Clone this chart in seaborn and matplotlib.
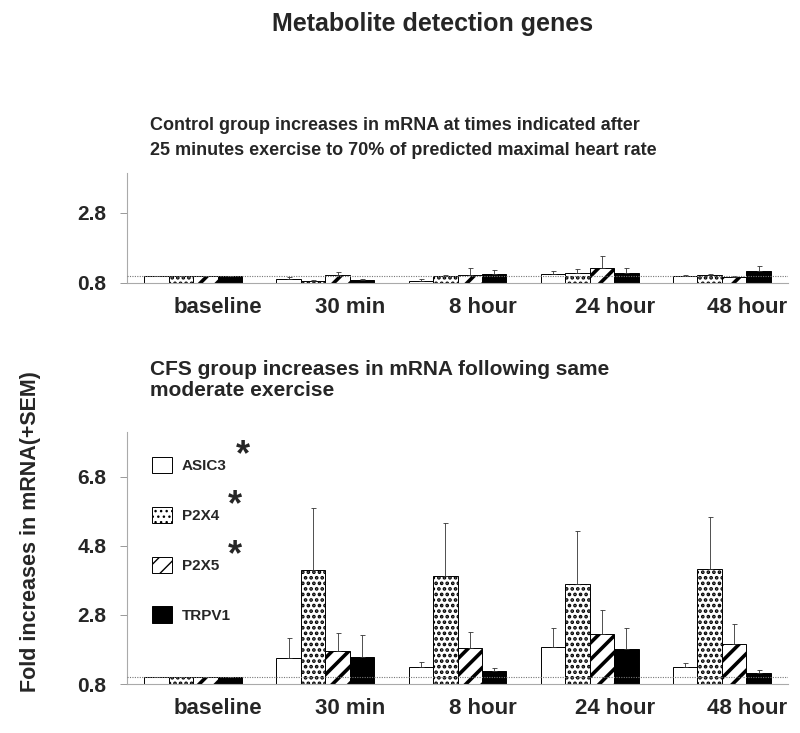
#%% modules
import numpy as np
import pandas as pd
import seaborn as sns
import matplotlib.pyplot as plt
from matplotlib.container import BarContainer

#%% data
times = ["baseline", "30 min", "8 hour", "24 hour", "48 hour"]
genes = ["ASIC3", "P2X4", "P2X5", "TRPV1"]

# control group (fold change, +SEM)
ctrl_asic3 = [1.0, 0.90, 0.85, 1.05, 0.99]
ctrl_p2x4 = [1.0, 0.86, 0.99, 1.09, 1.01]
ctrl_p2x5 = [1.0, 1.01, 1.02, 1.21, 0.95]
ctrl_trpv1 = [1.0, 0.88, 1.04, 1.09, 1.12]
ctrl_asic3_sem = [0.0, 0.05, 0.05, 0.09, 0.02]
ctrl_p2x4_sem = [0.0, 0.03, 0.02, 0.09, 0.04]
ctrl_p2x5_sem = [0.0, 0.09, 0.19, 0.35, 0.04]
ctrl_trpv1_sem = [0.0, 0.02, 0.11, 0.12, 0.16]

# CFS group (fold change, +SEM)
cfs_asic3 = [1.0, 1.54, 1.30, 1.88, 1.30]
cfs_p2x4 = [1.0, 4.09, 3.92, 3.71, 4.12]
cfs_p2x5 = [1.0, 1.75, 1.83, 2.24, 1.97]
cfs_trpv1 = [1.0, 1.59, 1.18, 1.80, 1.11]
cfs_asic3_sem = [0.0, 0.58, 0.13, 0.55, 0.10]
cfs_p2x4_sem = [0.0, 1.81, 1.54, 1.53, 1.51]
cfs_p2x5_sem = [0.0, 0.53, 0.48, 0.71, 0.56]
cfs_trpv1_sem = [0.0, 0.62, 0.07, 0.63, 0.09]

# genes marked with a significance asterisk
starred = [True, True, True, False]

#%% style
sns.set_style("white")
plt.rcParams["font.family"] = ["Liberation Sans", "DejaVu Sans"]
plt.rcParams["font.weight"] = "bold"


def long_df(vals, sems):
    rows = []
    for g, v, s in zip(genes, vals, sems):
        for t, vv, ss in zip(times, v, s):
            rows.append({"time": t, "gene": g, "fold": vv, "sem": ss})
    return pd.DataFrame(rows)


df_ctrl = long_df([ctrl_asic3, ctrl_p2x4, ctrl_p2x5, ctrl_trpv1],
                  [ctrl_asic3_sem, ctrl_p2x4_sem, ctrl_p2x5_sem, ctrl_trpv1_sem])
df_cfs = long_df([cfs_asic3, cfs_p2x4, cfs_p2x5, cfs_trpv1],
                 [cfs_asic3_sem, cfs_p2x4_sem, cfs_p2x5_sem, cfs_trpv1_sem])

palette = {"ASIC3": "white", "P2X4": "white", "P2X5": "white", "TRPV1": "black"}
hatches = {"ASIC3": "", "P2X4": "...", "P2X5": "//", "TRPV1": ""}
hatch_lw = {"ASIC3": 1.0, "P2X4": 1.8, "P2X5": 2.6, "TRPV1": 1.0}

fig = plt.figure(figsize=(8, 7.33), dpi=100)
ax_top = fig.add_axes([127 / 800, 1 - 282.7 / 733, 661 / 800, 110 / 733])
ax_bot = fig.add_axes([127 / 800, 1 - 684 / 733, 661 / 800, 252 / 733])


def draw_panel(ax, df, ymax, yticks):
    sns.barplot(data=df, x="time", y="fold", hue="gene", palette=palette,
                hue_order=genes, order=times, width=0.74, gap=0, errorbar=None,
                edgecolor="black", linewidth=0.7, saturation=1, legend=False, ax=ax)
    bars = [c for c in ax.containers if isinstance(c, BarContainer)]
    for gene, cont in zip(genes, bars):
        sub = df[df["gene"] == gene]
        xs, ys = [], []
        for p in cont.patches:
            p.set_hatch(hatches[gene])
            if hasattr(p, "set_hatch_linewidth"):
                p.set_hatch_linewidth(hatch_lw[gene])
            xs.append(p.get_x() + p.get_width() / 2)
            ys.append(p.get_height())
        sem = sub["sem"].values
        ax.errorbar(xs, ys, yerr=[np.zeros_like(sem), sem], fmt="none",
                    ecolor="#333333", elinewidth=0.6, capsize=1.8, capthick=0.6, zorder=1)
    ax.axhline(1.0, color="#777777", ls=(0, (1, 1.2)), lw=0.8, zorder=4)
    ax.set_ylim(0.8, ymax)
    ax.set_xlim(-0.5, 4.5)
    ax.set_yticks(yticks)
    ax.set_yticklabels([f"{t:.1f}" for t in yticks], fontsize=15, fontweight="bold")
    ax.set_xticks(np.arange(-0.5, 5, 1.0))
    ax.set_xticklabels([])
    ax.set_xticks(np.arange(5) + 0.19, minor=True)
    ax.set_xticklabels(times, minor=True, fontsize=16, fontweight="bold")
    ax.tick_params(axis="x", which="major", direction="out", length=4, color="#999999", width=0.7)
    ax.tick_params(axis="x", which="minor", length=0, pad=10)
    ax.tick_params(axis="y", direction="out", length=5, color="#999999", width=0.7, pad=10, left=True)
    ax.set_xlabel("")
    ax.set_ylabel("")
    for s in ["top", "right"]:
        ax.spines[s].set_visible(False)
    for s in ["left", "bottom"]:
        ax.spines[s].set_color("#aaaaaa")
        ax.spines[s].set_linewidth(0.8)
    ax.set_facecolor("none")
    return bars


draw_panel(ax_top, df_ctrl, 3.94, [0.8, 2.8])
bot_bars = draw_panel(ax_bot, df_cfs, 8.1, [0.8, 2.8, 4.8, 6.8])

#%% legend
handles = [c.patches[0] for c in bot_bars]
leg = ax_bot.legend(handles, genes, loc="upper left", bbox_to_anchor=(0.029, 0.925),
                    frameon=False, labelspacing=2.2, handlelength=1.3, handleheight=1.25,
                    handletextpad=0.65, borderaxespad=0, prop={"size": 11, "weight": "bold"})

#%% texts
fig.text(0.541, 1 - 24 / 733, "Metabolite detection genes", ha="center", va="center",
         fontsize=18, fontweight="bold")
fig.text(150 / 800, 1 - 138 / 733,
         "Control group increases in mRNA at times indicated after\n"
         "25 minutes exercise to 70% of predicted maximal heart rate",
         ha="left", va="center", fontsize=13, fontweight="bold", linespacing=1.55)
fig.text(150 / 800, 1 - 380 / 733,
         "CFS group increases in mRNA following same\nmoderate exercise",
         ha="left", va="center", fontsize=15, fontweight="bold", linespacing=1.15)
fig.text(31 / 800, 1 - 532 / 733, "Fold increases in mRNA(+SEM)", rotation=90,
         ha="center", va="center", fontsize=15.5, fontweight="bold")

# asterisks next to the legend labels
fig.canvas.draw()
renderer = fig.canvas.get_renderer()
for txt, star in zip(leg.get_texts(), starred):
    if not star:
        continue
    bb = txt.get_window_extent(renderer)
    fig.text(bb.x1 + 9, bb.y1 - 14, "*", transform=None, ha="left", va="bottom",
             fontsize=26, fontweight="bold")

fig.savefig("out.png", dpi=100)
